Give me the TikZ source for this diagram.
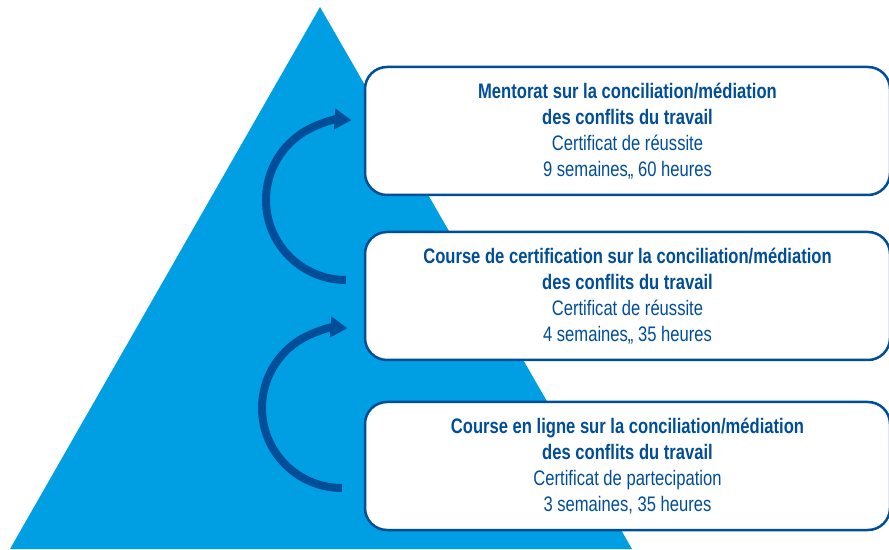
\documentclass[tikz,border=0pt]{standalone}
\usepackage{fontspec}
\setmainfont{Liberation Sans}[FakeStretch=0.79]
\usetikzlibrary{arrows.meta}
\definecolor{cyanbg}{HTML}{009FE3}
\definecolor{navy}{HTML}{004E98}
\begin{document}
\begin{tikzpicture}[x=1pt,y=1pt,
  box/.style={draw=navy, line width=2.5pt, fill=white, rounded corners=22pt,
    minimum width=525pt, minimum height=128pt, text=navy, align=center,
    font=\fontsize{21}{26}\selectfont, inner sep=0pt},
  flow/.style={draw=navy, line width=8pt, -{Triangle[length=17pt,width=20pt]}}]
\useasboundingbox (0,0) rectangle (889,549);
\clip (0,0) rectangle (889,549);
\coordinate (apex) at (320,542);
\coordinate (bl) at (10,0);
\coordinate (br) at (632,0);
\fill[cyanbg] (apex) -- (br) -- (bl) -- cycle;
\node[box] (b1) at (627.5,418) {\textbf{Mentorat sur la conciliation/médiation}\\\textbf{des conflits du travail}\\Certificat de réussite\\9 semaines,, 60 heures};
\node[box] (b2) at (627.5,253) {\textbf{Course de certification sur la conciliation/médiation}\\\textbf{des conflits du travail}\\Certificat de réussite\\4 semaines,, 35 heures};
\node[box] (b3) at (627.5,83) {\textbf{Course en ligne sur la conciliation/médiation}\\\textbf{des conflits du travail}\\Certificat de partecipation\\3 semaines, 35 heures};
\coordinate (s1) at (346,269);
\coordinate (s2) at (342,61);
\draw[flow] (s1) arc[start angle=-90, end angle=-274, radius=80];
\draw[flow] (s2) arc[start angle=-90, end angle=-274, radius=80];
\end{tikzpicture}
\end{document}
